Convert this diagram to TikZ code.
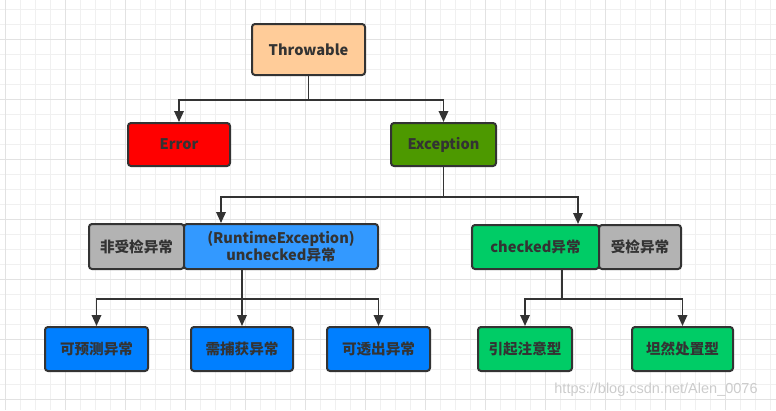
\documentclass[tikz,border=0pt]{standalone}
\usepackage{fontspec}
\setmainfont{Noto Sans CJK SC}
\newfontfamily\wmfont{Liberation Sans}
\usetikzlibrary{arrows.meta}
\definecolor{linegray}{HTML}{333333}
\definecolor{throwc}{HTML}{FFCC99}
\definecolor{errorc}{HTML}{FF0000}
\definecolor{excc}{HTML}{4D9900}
\definecolor{tagc}{HTML}{B3B3B3}
\definecolor{rtc}{HTML}{3399FF}
\definecolor{chkc}{HTML}{00CC66}
\definecolor{bluec}{HTML}{007FFF}
\definecolor{gridminor}{HTML}{F0F0F0}
\definecolor{gridmajor}{HTML}{E2E2E2}

\begin{document}
\begin{tikzpicture}[x=1pt,y=-1pt,
  box/.style={draw=linegray,line width=2pt,rounded corners=3pt,text=linegray,
    font=\fontsize{14.6}{17.5}\selectfont\bfseries,inner sep=0pt,align=center},
  ln/.style={draw=linegray,line width=1.8pt},
  arr/.style={ln,-{Triangle[length=11pt,width=9.5pt]}}]
\useasboundingbox (0,0) rectangle (776,410);
\fill[white] (0,0) rectangle (776,410);
\foreach \x in {5,20,...,775} \draw[gridminor,line width=1pt] (\x,0) -- (\x,410);
\foreach \y in {9,24,...,409} \draw[gridminor,line width=1pt] (0,\y) -- (776,\y);
\foreach \x in {5,65,...,725} \draw[gridmajor,line width=1pt] (\x,0) -- (\x,410);
\foreach \y in {39,99,...,399} \draw[gridmajor,line width=1pt] (0,\y) -- (776,\y);

\node[box,fill=throwc,minimum width=113pt,minimum height=51pt] (throwable) at (308.5,49.5) {Throwable};
\node[box,fill=errorc,minimum width=102pt,minimum height=43pt] (error) at (179,144.5) {Error};
\node[box,fill=excc,minimum width=105pt,minimum height=43pt] (exception) at (443.5,144.5) {Exception};

\node[box,fill=tagc,minimum width=95pt,minimum height=45pt] (unchecktag) at (136.5,246.5) {非受检异常};
\node[box,fill=rtc,minimum width=194pt,minimum height=45pt] (runtime) at (281,246.5) {(RuntimeException)\\unchecked异常};
\node[box,fill=chkc,minimum width=127pt,minimum height=44pt] (checked) at (535.5,247) {checked异常};
\node[box,fill=tagc,minimum width=82pt,minimum height=44pt] (checktag) at (640,247) {受检异常};

\node[box,fill=bluec,minimum width=103pt,minimum height=44pt] (predict) at (96.5,349) {可预测异常};
\node[box,fill=bluec,minimum width=102pt,minimum height=44pt] (catch) at (242,349) {需捕获异常};
\node[box,fill=bluec,minimum width=103pt,minimum height=44pt] (passout) at (378.5,349) {可透出异常};
\node[box,fill=chkc,minimum width=94pt,minimum height=44pt] (notice) at (525,349) {引起注意型};
\node[box,fill=chkc,minimum width=101pt,minimum height=44pt] (calm) at (682.5,349) {坦然处置型};

\draw[ln] (throwable.south) -- ++(0,24) coordinate (j1);
\draw[arr] (j1) -| (error.north);
\draw[arr] (j1) -| (exception.north);

\draw[ln] (exception.south) -- ++(0,30) coordinate (j2);
\draw[arr] (j2) -| ([xshift=-60pt]runtime.north);
\draw[arr] (j2) -| ([xshift=42.5pt]checked.north);

\draw[ln] ([xshift=-39pt]runtime.south) -- ++(0,29) coordinate (j3);
\draw[arr] (j3) -| (predict.north);
\draw[arr] (j3) -- (catch.north);
\draw[arr] (j3) -| (passout.north);

\draw[ln] ([xshift=26.5pt]checked.south) -- ++(0,29) coordinate (j4);
\draw[arr] (j4) -| (notice.north);
\draw[arr] (j4) -| (calm.north);

\node[text=gray!40,font=\wmfont\fontsize{14.5}{17}\selectfont] (mark) at (656,390) {https://blog.csdn.net/Alen\_0076};
\end{tikzpicture}
\end{document}
